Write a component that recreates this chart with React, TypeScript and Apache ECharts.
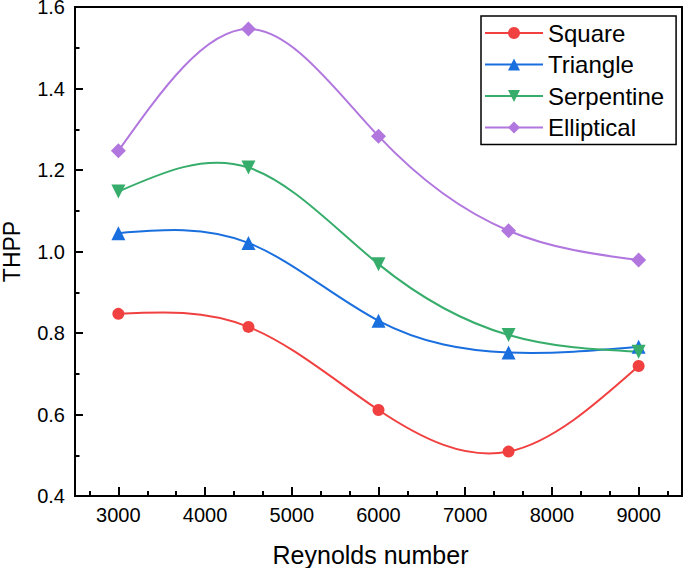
import React, { useEffect, useRef } from "react";
import * as echarts from "echarts";

const reynolds = [3000, 4500, 6000, 7500, 9000];
const square = [0.847, 0.815, 0.611, 0.509, 0.719];
const triangle = [1.045, 1.021, 0.83, 0.752, 0.766];
const serpentine = [1.147, 1.206, 0.969, 0.795, 0.754];
const elliptical = [1.247, 1.546, 1.283, 1.051, 0.979];

const xMajorTicks = [3000, 4000, 5000, 6000, 7000, 8000, 9000];
const xMinorTicks = [2666.67, 3333.33, 3666.67, 4333.33, 4666.67, 5333.33, 5666.67, 6333.33, 6666.67, 7333.33, 7666.67, 8333.33, 8666.67, 9333.33];

const FONT = "'Liberation Sans', Arial, Helvetica, sans-serif";

const seriesDefs = [
  { name: "Square", data: square, color: "#F14040", symbol: "circle", size: 12, rotate: 0 },
  { name: "Triangle", data: triangle, color: "#1A6FDF", symbol: "triangle", size: 14, rotate: 0 },
  { name: "Serpentine", data: serpentine, color: "#37AD6B", symbol: "triangle", size: 14, rotate: 180 },
  { name: "Elliptical", data: elliptical, color: "#B177DE", symbol: "diamond", size: 15, rotate: 0 },
];

// Natural cubic spline through pixel points, returned as SVG path data (cubic Bezier segments)
function splinePath(pts: number[][]): string {
  const n = pts.length - 1;
  if (n < 1) return "";
  const h: number[] = [];
  for (let i = 0; i < n; i++) h.push(pts[i + 1][0] - pts[i][0]);
  const M = new Array(n + 1).fill(0);
  if (n > 1) {
    const a: number[] = [], b: number[] = [], c: number[] = [], d: number[] = [];
    for (let i = 1; i < n; i++) {
      a.push(h[i - 1]);
      b.push(2 * (h[i - 1] + h[i]));
      c.push(h[i]);
      d.push(6 * ((pts[i + 1][1] - pts[i][1]) / h[i] - (pts[i][1] - pts[i - 1][1]) / h[i - 1]));
    }
    const m = b.length;
    for (let i = 1; i < m; i++) {
      const w = a[i] / b[i - 1];
      b[i] -= w * c[i - 1];
      d[i] -= w * d[i - 1];
    }
    const sol = new Array(m).fill(0);
    sol[m - 1] = d[m - 1] / b[m - 1];
    for (let i = m - 2; i >= 0; i--) sol[i] = (d[i] - c[i] * sol[i + 1]) / b[i];
    for (let i = 0; i < m; i++) M[i + 1] = sol[i];
  }
  let path = `M${pts[0][0]},${pts[0][1]}`;
  for (let i = 0; i < n; i++) {
    const hi = h[i];
    const slope = (pts[i + 1][1] - pts[i][1]) / hi;
    const d0 = slope - (hi * (2 * M[i] + M[i + 1])) / 6;
    const d1 = slope + (hi * (M[i] + 2 * M[i + 1])) / 6;
    const c1x = pts[i][0] + hi / 3;
    const c1y = pts[i][1] + (hi / 3) * d0;
    const c2x = pts[i + 1][0] - hi / 3;
    const c2y = pts[i + 1][1] - (hi / 3) * d1;
    path += ` C${c1x},${c1y} ${c2x},${c2y} ${pts[i + 1][0]},${pts[i + 1][1]}`;
  }
  return path;
}

export default function App() {
  const ref = useRef<HTMLDivElement>(null);
  useEffect(() => {
    if (!ref.current) return;
    const chart = echarts.init(ref.current, undefined, { renderer: "svg" });

    const curveSeries = seriesDefs.map((s) => ({
      name: s.name + " curve",
      type: "custom",
      xAxisIndex: 0,
      yAxisIndex: 0,
      z: 1,
      silent: true,
      data: reynolds.map((x, i) => [x, s.data[i]]),
      encode: { x: 0, y: 1 },
      renderItem: (params: any, api: any) => {
        if (params.dataIndex !== 0) return null;
        const pts = reynolds.map((x, i) => api.coord([x, s.data[i]]));
        return {
          type: "path",
          shape: { pathData: splinePath(pts) },
          style: { fill: "none", stroke: s.color, lineWidth: 2 },
        };
      },
    }));

    const markerSeries = seriesDefs.map((s) => ({
      name: s.name,
      type: "line",
      xAxisIndex: 0,
      z: 3,
      data: reynolds.map((x, i) => [x, s.data[i]]),
      symbol: s.symbol,
      symbolSize: s.size,
      symbolRotate: s.rotate,
      showAllSymbol: true,
      lineStyle: { color: s.color, width: 2, opacity: 0 },
      itemStyle: { color: s.color },
      emphasis: { disabled: true },
    }));

    chart.setOption({
      animation: false,
      backgroundColor: "#fff",
      textStyle: { fontFamily: FONT },
      grid: {
        left: 75,
        right: 3,
        top: 7,
        bottom: 72,
        outerBoundsMode: "none",
        containLabel: false,
        show: true,
        borderColor: "#000",
        borderWidth: 2,
        backgroundColor: "transparent",
      },
      legend: {
        orient: "vertical",
        left: 481,
        top: 16,
        padding: [5, 12, 5, 3],
        itemWidth: 58,
        itemHeight: 15,
        itemGap: 7.5,
        borderColor: "#000",
        borderWidth: 1.5,
        backgroundColor: "#fff",
        textStyle: { fontSize: 24, lineHeight: 24, color: "#000", fontFamily: FONT },
        data: seriesDefs.map((s) => ({
          name: s.name,
          lineStyle: { color: s.color, width: 2, opacity: 1 },
        })),
      },
      xAxis: [
        {
          type: "value",
          min: 2500,
          max: 9500,
          name: "Reynolds number",
          nameLocation: "middle",
          nameGap: 46,
          nameTextStyle: { fontSize: 25, color: "#000", fontFamily: FONT, padding: [0, 16, 0, 0] },
          axisLine: { show: true, lineStyle: { color: "#000", width: 2 } },
          axisTick: { show: true, inside: true, length: 9, customValues: xMajorTicks, lineStyle: { color: "#000", width: 2 } },
          axisLabel: {
            show: true,
            customValues: xMajorTicks,
            fontSize: 20,
            color: "#000",
            margin: 9,
            fontFamily: FONT,
            formatter: (v: number) => String(Math.round(v)),
          },
          splitLine: { show: false },
        },
        {
          type: "value",
          min: 2500,
          max: 9500,
          position: "bottom",
          axisLine: { show: false },
          axisTick: { show: true, inside: true, length: 5, customValues: xMinorTicks, lineStyle: { color: "#000", width: 2 } },
          axisLabel: { show: false },
          splitLine: { show: false },
        },
      ],
      yAxis: {
        type: "value",
        min: 0.4,
        max: 1.6,
        interval: 0.2,
        name: "THPP",
        nameLocation: "middle",
        nameGap: 53,
        nameTextStyle: { fontSize: 23, lineHeight: 20, color: "#000", fontFamily: FONT },
        axisLine: { show: true, lineStyle: { color: "#000", width: 2 } },
        axisTick: { show: true, inside: true, length: 8, lineStyle: { color: "#000", width: 2 } },
        minorTick: { show: true, splitNumber: 2, length: 4.5, lineStyle: { color: "#000", width: 2 } },
        axisLabel: {
          fontSize: 20,
          lineHeight: 12,
          padding: [4, 0, 0, 0],
          color: "#000",
          margin: 10,
          fontFamily: FONT,
          formatter: (v: number) => v.toFixed(1),
        },
        splitLine: { show: false },
        minorSplitLine: { show: false },
      },
      series: [...curveSeries, ...markerSeries],
    });
    return () => chart.dispose();
  }, []);
  return <div ref={ref} style={{ width: 685, height: 568, position: "absolute", left: 0, top: 0 }} />;
}
